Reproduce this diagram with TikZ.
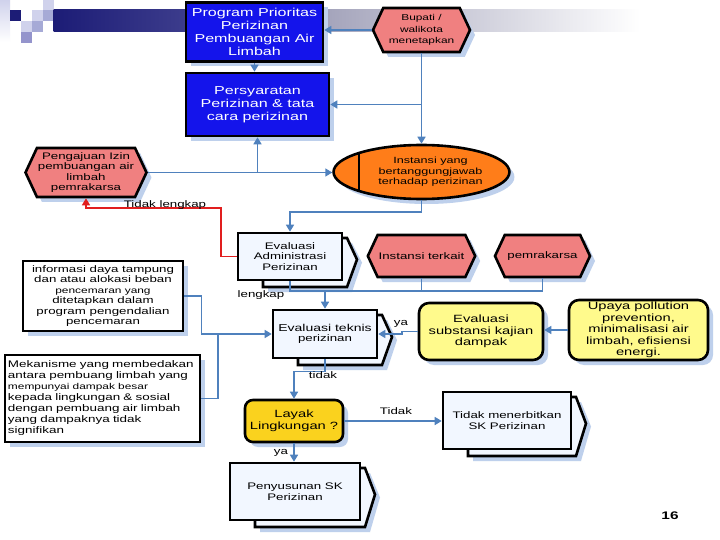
\documentclass[tikz,border=0pt]{standalone}
\usepackage{fontspec}
\setmainfont{Liberation Sans}[FakeStretch=1.4]
\usetikzlibrary{arrows.meta,shapes.symbols,shapes.geometric,shadows,calc}
\definecolor{linecol}{RGB}{79,129,189}
\definecolor{shadowcol}{RGB}{190,208,236}
\definecolor{boxblue}{RGB}{20,20,235}
\definecolor{pinkc}{RGB}{240,128,128}
\definecolor{orangec}{RGB}{255,125,25}
\definecolor{yellowc}{RGB}{255,250,140}
\definecolor{goldc}{RGB}{250,210,30}
\definecolor{docfill}{RGB}{242,247,255}
\definecolor{redc}{RGB}{225,30,30}
\definecolor{navyc}{RGB}{28,28,118}
\definecolor{barmid}{RGB}{60,60,140}
\definecolor{bargray}{RGB}{165,165,188}
\definecolor{sq1}{RGB}{208,210,236}
\definecolor{sq2}{RGB}{166,170,214}
\definecolor{sq3}{RGB}{148,148,204}
\tikzset{
  base/.style={draw=black, line width=2.6pt, align=center, inner sep=1pt},
  shad/.style={drop shadow={fill=shadowcol, opacity=1, shadow xshift=5pt, shadow yshift=-5pt}},
  bluebox/.style={base, shad, fill=boxblue, text=white, font=\fontsize{11.5}{13}\selectfont},
  hexa/.style={base, shad, shape=signal, signal to=west and east, signal pointer angle=130, fill=pinkc, font=\fontsize{9.5}{10.8}\selectfont},
  notebox/.style={base, shad, fill=white, font=\fontsize{9.5}{10.4}\selectfont},
  yelbox/.style={base, shad, rounded corners=10pt, fill=yellowc, font=\fontsize{10.5}{11.5}\selectfont},
  docfront/.style={base, fill=docfill, font=\fontsize{9.5}{10.5}\selectfont},
  docback/.style={draw=black, line width=2.6pt, fill=docfill},
  line/.style={draw=linecol, line width=1.6pt},
  conn/.style={line, -{Triangle[width=8pt,length=7pt]}},
  redconn/.style={draw=redc, line width=1.6pt, -{Triangle[width=8pt,length=7pt]}},
  lbl/.style={font=\fontsize{9.5}{10}\selectfont, inner sep=1pt}
}
\newcommand\mydoc[6]{%
  \fill[shadowcol] ({#2+30},{#3+10}) -- ({#4+10},{#3+10}) -- ({#4+20},{(#3+#5)/2+6}) -- ({#4+10},{#5+12}) -- ({#2+30},{#5+12}) -- cycle;
  \draw[docback] ({#2+25},{#3+5}) -- ({#4+5},{#3+5}) -- ({#4+15},{(#3+#5)/2+3}) -- ({#4+5},{#5+7}) -- ({#2+25},{#5+7}) -- cycle;
  \node[docfront, minimum width={#4-#2}, minimum height={#5-#3}] (#1) at ({(#2+#4)/2},{(#3+#5)/2}) {#6};
}
\begin{document}
\begin{tikzpicture}[x=1pt,y=-1pt]
\useasboundingbox (0,0) rectangle (720,540);
\fill[white] (0,0) rectangle (720,540);
% header decoration
\shade[top color=sq1, bottom color=white] (0,0) rectangle (10,42);
\fill[navyc] (10,10) rectangle (21,21);
\fill[sq1] (32,10) rectangle (43,21);
\fill[sq1] (43,0) rectangle (54,10);
\fill[sq2] (43,10) rectangle (54,21);
\fill[sq1] (21,21) rectangle (32,32);
\fill[sq2] (32,21) rectangle (43,32);
\fill[sq3] (21,32) rectangle (32,43);
\shade[left color=navyc, right color=barmid] (53.5,10) rectangle (185,32);
\shade[left color=barmid, right color=bargray] (184.5,10) rectangle (330,32);
\shade[left color=bargray, right color=white] (329.5,10) rectangle (640,32);

% nodes
\node[bluebox, minimum width=137, minimum height=59] (p1) at (254.5,32) {Program Prioritas\\Perizinan\\Pembuangan Air\\Limbah};
\node[bluebox, minimum width=143, minimum height=63] (p2) at (257.5,104.5) {Persyaratan\\Perizinan \& tata\\cara perizinan};
\node[hexa, minimum width=97, minimum height=44, font=\fontsize{8.5}{11.5}\selectfont] (bup) at (421.5,30) {Bupati /\\walikota\\menetapkan};
\node[hexa, minimum width=108, minimum height=49, font=\fontsize{9.5}{10.6}\selectfont] (peng) at (86,172.5) {Pengajuan Izin\\pembuangan air\\limbah\\pemrakarsa};
\node[base, shad, ellipse, fill=orangec, minimum width=168, minimum height=54, font=\fontsize{9}{10.5}\selectfont] (inst) at (421.5,172) {\hspace*{18pt}Instansi yang\\\hspace*{18pt}bertanggungjawab\\\hspace*{18pt}terhadap perizinan};
\draw[line width=2.6pt] (359,154) -- (359,190);
\mydoc{admin}{238}{233}{342}{280}{Evaluasi\\Administrasi\\Perizinan}
\node[hexa, minimum width=97, minimum height=42] (terk) at (421.5,256) {Instansi terkait};
\node[hexa, minimum width=95, minimum height=42] (pem) at (542.5,256) {pemrakarsa};
\node[notebox, minimum width=160, minimum height=70] (info) at (103,296) {informasi daya tampung\\dan atau alokasi beban\\{\fontsize{8.5}{10.4}\selectfont pencemaran yang}\\ditetapkan dalam\\program pengendalian\\pencemaran};
\mydoc{teknis}{273}{310}{377}{358}{\fontsize{10}{12}\selectfont Evaluasi teknis\\perizinan}
\node[yelbox, minimum width=124, minimum height=57] (subst) at (481,331.5) {Evaluasi\\substansi kajian\\dampak};
\node[yelbox, minimum width=139, minimum height=60] (upaya) at (638.5,330) {Upaya pollution\\prevention,\\minimalisasi air\\limbah, efisiensi\\energi.};
\node[notebox, minimum width=195, minimum height=87, text width=189, align=left, font=\fontsize{9.6}{11}\selectfont] (mek) at (102.5,398.5) {Mekanisme yang membedakan\\antara pembuang limbah yang\\{\fontsize{8.5}{11}\selectfont mempunyai dampak besar}\\kepada lingkungan \& sosial\\dengan pembuang air limbah\\yang dampaknya tidak\\signifikan};
\node[base, shad, rounded corners=8pt, fill=goldc, minimum width=98, minimum height=42, font=\fontsize{10.5}{12}\selectfont] (layak) at (294,421) {Layak\\Lingkungan ?};
\mydoc{tdk}{443}{392}{571}{449}{Tidak menerbitkan\\SK Perizinan}
\mydoc{peny}{230}{463}{360}{520}{\fontsize{9.5}{10.5}\selectfont Penyusunan SK\\Perizinan}
\node[font=\bfseries\fontsize{11}{12}\selectfont] (num) at (670,516) {16};

% connectors
\draw[conn] (bup.west) -- (bup.west -| p1.east);
\draw[conn] (bup.south) -- (inst.north);
\draw[conn] (bup.south |- p2.east) -- (p2.east);
\draw[conn] (p1.south) -- (p1.south |- p2.north);
\draw[conn] (peng.east) -- (peng.east -| inst.west);
\draw[conn] (peng.east -| p2.south) -- (p2.south);
\draw[conn] (inst.south) -- ++(0,12) -| (admin.north);
\coordinate (redturn) at (221,208);
\draw[redconn] (admin.west) -| (redturn) -| (peng.south);
\node[lbl] (lblTL) at (165,205) {Tidak lengkap};
\coordinate (bus) at (0,291);
\draw[line] (admin.south) |- (pem.south |- bus) -- (pem.south);
\draw[line] (terk.south) -- (terk.south |- bus);
\draw[conn] (teknis.north |- bus) -- (teknis.north);
\node[lbl] (lblL) at (261,295) {lengkap};
\draw[conn] (info.east) -- ++(17,0) |- (teknis.west);
\coordinate (mj) at (218,334);
\draw[line] (mek.east) -| (mj);
\draw[conn] (subst.west) -- ++(-16,0) |- (teknis.east);
\node[lbl] (lblya1) at (401,324) {ya};
\draw[conn] (upaya.west) -- (upaya.west -| subst.east);
\draw[conn] (teknis.south) -- ++(0,12) -| (layak.north);
\node[lbl] (lbltidak) at (323,375) {tidak};
\draw[conn] (layak.east) -- (layak.east -| tdk.west);
\node[lbl] (lblTidak) at (396,411) {Tidak};
\draw[conn] (layak.south) -- (layak.south |- peny.north);
\node[lbl] (lblya2) at (281,453) {ya};
\end{tikzpicture}
\end{document}
